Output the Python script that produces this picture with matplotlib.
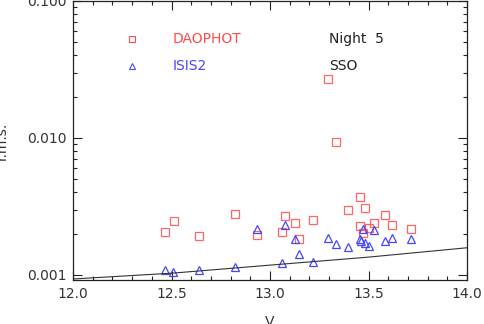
import matplotlib
matplotlib.use('Agg')
import matplotlib.pyplot as plt
from matplotlib.ticker import MultipleLocator, FixedLocator, LogLocator, NullFormatter

# star magnitudes (same stars for both reductions)
v_dao = [12.465, 12.511, 12.640, 12.822, 12.934, 13.061, 13.078, 13.125, 13.149, 13.217, 13.294,
         13.337, 13.396, 13.459, 13.481, 13.459, 13.474, 13.504, 13.528, 13.585, 13.621, 13.714]
rms_dao = [0.00206, 0.00247, 0.00192, 0.00277, 0.00197, 0.00206, 0.00270, 0.00241, 0.00184, 0.00252, 0.0269,
           0.00934, 0.00296, 0.00372, 0.00310, 0.00226, 0.00204, 0.00220, 0.00239, 0.00273, 0.00231, 0.00218]

v_isis = [12.465, 12.509, 12.640, 12.822, 12.934, 13.061, 13.078, 13.125, 13.149, 13.217, 13.294,
          13.337, 13.396, 13.459, 13.462, 13.474, 13.481, 13.503, 13.530, 13.585, 13.621, 13.714]
rms_isis = [0.00108, 0.00106, 0.00108, 0.00114, 0.00215, 0.00123, 0.00233, 0.00184, 0.00142, 0.00125, 0.00185,
            0.00169, 0.00160, 0.00182, 0.00177, 0.00215, 0.00172, 0.00164, 0.00213, 0.00177, 0.00186, 0.00182]

# expected noise curve
v_model = [12.0, 12.5, 13.0, 13.5, 14.0]
rms_model = [0.000935, 0.00103, 0.00118, 0.00135, 0.00158]

red = '#ff4a4a'
blue = '#4646ff'

fig = plt.figure(figsize=(4.84, 3.24), dpi=100)
ax = fig.add_axes([0.151, 0.136, 0.814, 0.861])

ax.plot(v_dao, rms_dao, 's', mfc='none', mec=red, ms=6, mew=0.9, alpha=0.85)
ax.plot(v_isis, rms_isis, '^', mfc='none', mec=blue, ms=5.5, mew=0.9)
ax.plot(v_model, rms_model, '-', color='#333333', lw=0.8)

ax.set_yscale('log')
ax.set_xlim(12.0, 14.0)
ax.set_ylim(0.00092, 0.1)

ax.xaxis.set_major_locator(MultipleLocator(0.5))
ax.xaxis.set_minor_locator(MultipleLocator(0.1))
ax.xaxis.set_major_formatter(plt.FuncFormatter(lambda v, p: '%.1f' % v))
ax.yaxis.set_major_locator(FixedLocator([0.001, 0.01, 0.1]))
ax.yaxis.set_major_formatter(plt.FuncFormatter(lambda v, p: '%.3f' % v))
ax.yaxis.set_minor_locator(LogLocator(base=10, subs=range(2, 10)))
ax.yaxis.set_minor_formatter(NullFormatter())

ax.tick_params(which='both', direction='in', top=True, right=True, colors='#222222',
               labelcolor='#333333', labelsize=10)
ax.tick_params(which='major', length=6.5, width=0.8, pad=5)
ax.tick_params(which='minor', length=3, width=0.8)
for s in ax.spines.values():
    s.set_linewidth(0.9)
    s.set_color('#222222')

ax.set_xlabel('V', fontsize=10, color='#333333')
ax.xaxis.set_label_coords(0.5, -0.125)
ax.set_ylabel('r.m.s.', fontsize=10, color='#333333')
ax.yaxis.set_label_coords(-0.163, 0.498)

# legend by hand, IDL style
ax.plot([12.3], [0.0525], 's', mfc='none', mec=red, ms=5, mew=0.8)
ax.plot([12.3], [0.0335], '^', mfc='none', mec=blue, ms=4.5, mew=0.8)
ax.text(12.505, 0.0525, 'DAOPHOT', color=red, fontsize=10, va='center')
ax.text(12.505, 0.0335, 'ISIS2', color=blue, fontsize=10, va='center')
ax.text(13.3, 0.0525, 'Night  5', color='#222222', fontsize=10, va='center')
ax.text(13.3, 0.0335, 'SSO', color='#222222', fontsize=10, va='center')

fig.savefig('out.png', dpi=100)
